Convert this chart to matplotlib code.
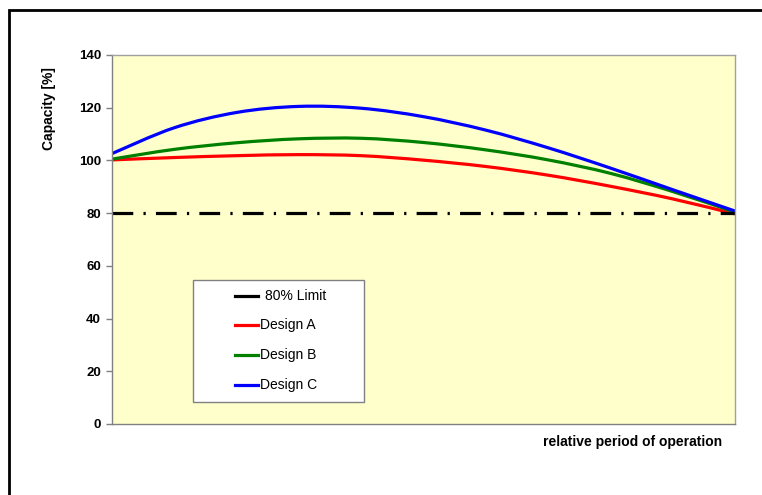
import matplotlib.pyplot as plt
import matplotlib.patches as patches
from matplotlib.lines import Line2D
from matplotlib.path import Path

plt.rcParams['font.family'] = ['Liberation Sans', 'DejaVu Sans']

# relative period of operation (%) and capacity (%)
period = [0, 10, 20, 30, 40, 50, 60, 70, 80, 90, 100]
design_a = [100.2, 101.1, 101.8, 102.2, 101.8, 100.1, 97.7, 94.4, 90.2, 85.4, 79.7]
design_b = [100.5, 104.2, 106.7, 108.2, 108.4, 106.8, 104.0, 100.2, 95.1, 88.2, 80.4]
design_c = [102.6, 112.4, 118.2, 120.5, 119.8, 116.6, 111.5, 104.8, 97.1, 88.9, 80.8]
limit = 80

series = [
    ("Design A", design_a, "#FF0000"),
    ("Design B", design_b, "#008000"),
    ("Design C", design_c, "#0000FF"),
]


def smooth_path(xs, ys):
    # Excel style "smoothed line": Catmull-Rom segments as cubic Beziers
    pts = list(zip(xs, ys))
    verts = [pts[0]]
    codes = [Path.MOVETO]
    n = len(pts)
    for i in range(n - 1):
        p0 = pts[max(i - 1, 0)]
        p1 = pts[i]
        p2 = pts[i + 1]
        p3 = pts[min(i + 2, n - 1)]
        c1 = (p1[0] + (p2[0] - p0[0]) / 6, p1[1] + (p2[1] - p0[1]) / 6)
        c2 = (p2[0] - (p3[0] - p1[0]) / 6, p2[1] - (p3[1] - p1[1]) / 6)
        verts += [c1, c2, p2]
        codes += [Path.CURVE4] * 3
    return Path(verts, codes)


fig = plt.figure(figsize=(7.62, 4.95), dpi=100)
ax = fig.add_axes([112 / 762, 1 - 424 / 495, 623 / 762, 369 / 495])
ax.set_facecolor("#FFFFCC")

ax.axhline(limit, color="black", linewidth=2.3, dashes=(6.5, 3.2, 0.7, 3.2))
for name, vals, col in series:
    ax.add_patch(patches.PathPatch(smooth_path(period, vals), fill=False,
                                   edgecolor=col, linewidth=2.3, capstyle="butt"))

ax.set_xlim(0, 100)
ax.set_ylim(0, 140)
ax.set_yticks(range(0, 141, 20))
ax.set_xticks([])
for lab in ax.get_yticklabels():
    lab.set_fontweight("bold")
ax.tick_params(axis="y", length=4, width=1, color="#808080", labelsize=9.5, pad=4)
for s in ax.spines.values():
    s.set_color("#A0A0A0")
    s.set_linewidth(1)
ax.spines["left"].set_color("#808080")
ax.spines["bottom"].set_color("#808080")

# legend box drawn by hand to match the spreadsheet layout
ax.add_patch(patches.Rectangle((0.130, 0.0596), 0.2745, 0.3304, transform=ax.transAxes,
                               facecolor="white", edgecolor="#808080", linewidth=1, zorder=5))
legend_rows = [("80% Limit", "black")] + [(n, c) for n, _, c in series]
row_y = [0.347, 0.268, 0.187, 0.106]
for (name, col), yy in zip(legend_rows, row_y):
    ax.add_line(Line2D([0.1974, 0.2343], [yy, yy], color=col, linewidth=2.3,
                       transform=ax.transAxes, zorder=6))
    tx = 0.245 if name == "80% Limit" else 0.238
    ax.text(tx, yy, name, transform=ax.transAxes, fontsize=10, va="center", zorder=7)

fig.text(49 / 762, 1 - 109 / 495, "Capacity [%]", rotation=90, fontsize=10,
         fontweight="bold", ha="center", va="center")
fig.text(633 / 762, 1 - 442 / 495, "relative period of operation", fontsize=10,
         fontweight="bold", ha="center", va="center")

fig.patches.append(patches.Rectangle((9 / 762, -0.1), 1.2, 1.1 - 10 / 495, transform=fig.transFigure,
                                     fill=False, edgecolor="black", linewidth=2))

fig.savefig("out.png", dpi=100)
